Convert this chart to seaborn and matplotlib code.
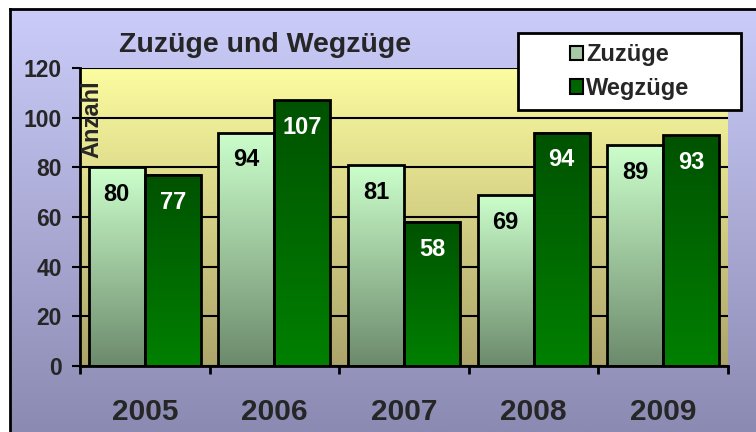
import numpy as np
import pandas as pd
import matplotlib
matplotlib.use("Agg")
import matplotlib.pyplot as plt
from matplotlib.colors import LinearSegmentedColormap
from matplotlib.patches import Patch, Rectangle
import seaborn as sns

# -----------------------------------------------
# Data
# -----------------------------------------------
years = ["2005", "2006", "2007", "2008", "2009"]
zuzuege = [80, 94, 81, 69, 89]
wegzuege = [77, 107, 58, 94, 93]
series = ["Zuzüge", "Wegzüge"]
y_ticks = [0, 20, 40, 60, 80, 100, 120]

df = pd.DataFrame({
    "Jahr": years * 2,
    "Anzahl": zuzuege + wegzuege,
    "Art": [series[0]] * len(years) + [series[1]] * len(years),
})

sns.set_theme(style="white")
plt.rcParams["font.family"] = ["Liberation Sans", "DejaVu Sans"]
plt.rcParams["font.weight"] = "bold"


def vgrad(top, bottom):
    return LinearSegmentedColormap.from_list("g", [bottom, top])


grad = np.linspace(0, 1, 256).reshape(-1, 1)

fig = plt.figure(figsize=(7.56, 4.32), dpi=100)
fig.patch.set_facecolor("white")

# outer chart area with lavender gradient
bg = fig.add_axes([10 / 756, 0, 1 - 10 / 756, 1 - 9 / 432], zorder=-1)
bg.imshow(grad, aspect="auto", origin="lower", extent=[0, 1, 0, 1],
          cmap=vgrad("#ccccfa", "#8a8ab2"))
bg.set_xticks([])
bg.set_yticks([])
for side, sp in bg.spines.items():
    sp.set_visible(side in ("left", "top"))
    sp.set_color("black")
    sp.set_linewidth(2)

# plot area
ax = fig.add_axes([80 / 756, 66 / 432, 648 / 756, 298 / 432])
sns.barplot(data=df, x="Jahr", y="Anzahl", hue="Art",
            palette=["#a8d8a8", "#006400"], width=0.865,
            edgecolor="black", linewidth=2, legend=False, ax=ax, zorder=2)

ax.imshow(grad, extent=[-0.5, len(years) - 0.5, 0, 120], aspect="auto",
          origin="lower", cmap=vgrad("#fcfca0", "#aca46a"), zorder=0)

# gradient fill for each bar
bar_cmaps = [vgrad("#ccffcc", "#6c8a6c"), vgrad("#005200", "#008000")]
for cont, cmap in zip(ax.containers, bar_cmaps):
    for bar in cont:
        x0, y0 = bar.get_x(), bar.get_y()
        w, h = bar.get_width(), bar.get_height()
        ax.imshow(grad, extent=[x0, x0 + w, y0, y0 + h], aspect="auto",
                  origin="lower", cmap=cmap, zorder=1.5)
        bar.set_facecolor("none")

# value labels inside the bars
for cont, col in zip(ax.containers, ["black", "white"]):
    ax.bar_label(cont, padding=-28, color=col, fontsize=17, fontweight="bold")

ax.set_xlim(-0.5, len(years) - 0.5)
ax.set_ylim(0, 120)
ax.set_yticks(y_ticks)
ax.yaxis.grid(True, color="black", linewidth=1.5)
ax.xaxis.grid(False)
ax.set_axisbelow(True)

ax.set_xticks(range(len(years)))
ax.set_xticklabels(years)
ax.set_xticks(np.arange(len(years) + 1) - 0.5, minor=True)
ax.tick_params(axis="x", which="major", length=0, pad=23, labelsize=21.5)
ax.tick_params(axis="x", which="minor", length=6, width=2, direction="out",
               bottom=True, color="black")
ax.tick_params(axis="y", length=6, width=1.5, direction="out", left=True,
               labelsize=16.5, pad=7, color="black")
for lbl in ax.get_xticklabels() + ax.get_yticklabels():
    lbl.set_fontweight("bold")

ax.set_xlabel("")
ax.set_ylabel("")
for side in ("top", "right"):
    ax.spines[side].set_visible(False)
for side in ("left", "bottom"):
    ax.spines[side].set_color("black")
    ax.spines[side].set_linewidth(2)

ax.text(0.019, 0.958, "Anzahl", rotation=90, ha="center", va="top",
        transform=ax.transAxes, fontsize=17, fontweight="bold")
ax.set_title("Zuzüge und Wegzüge", x=0.285, y=1.077, va="center", pad=0,
             fontsize=20.5, fontweight="bold")

# legend box
fig.add_artist(Rectangle((518 / 756, 1 - 110 / 432), 223 / 756, 77 / 432,
                         transform=fig.transFigure, facecolor="white",
                         edgecolor="black", linewidth=2, zorder=3))
handles = [Patch(facecolor="#a6c8a6", edgecolor="black", linewidth=1.5),
           Patch(facecolor="#006400", edgecolor="black", linewidth=1.5)]
leg = fig.legend(handles, series, loc="center",
                 bbox_to_anchor=(629.5 / 756, 1 - 71.5 / 432), frameon=False,
                 prop={"size": 17, "weight": "bold"}, handlelength=0.55,
                 handleheight=0.55, handletextpad=0.15, labelspacing=0.45)
leg.set_zorder(5)

fig.savefig("out.png", dpi=100)
